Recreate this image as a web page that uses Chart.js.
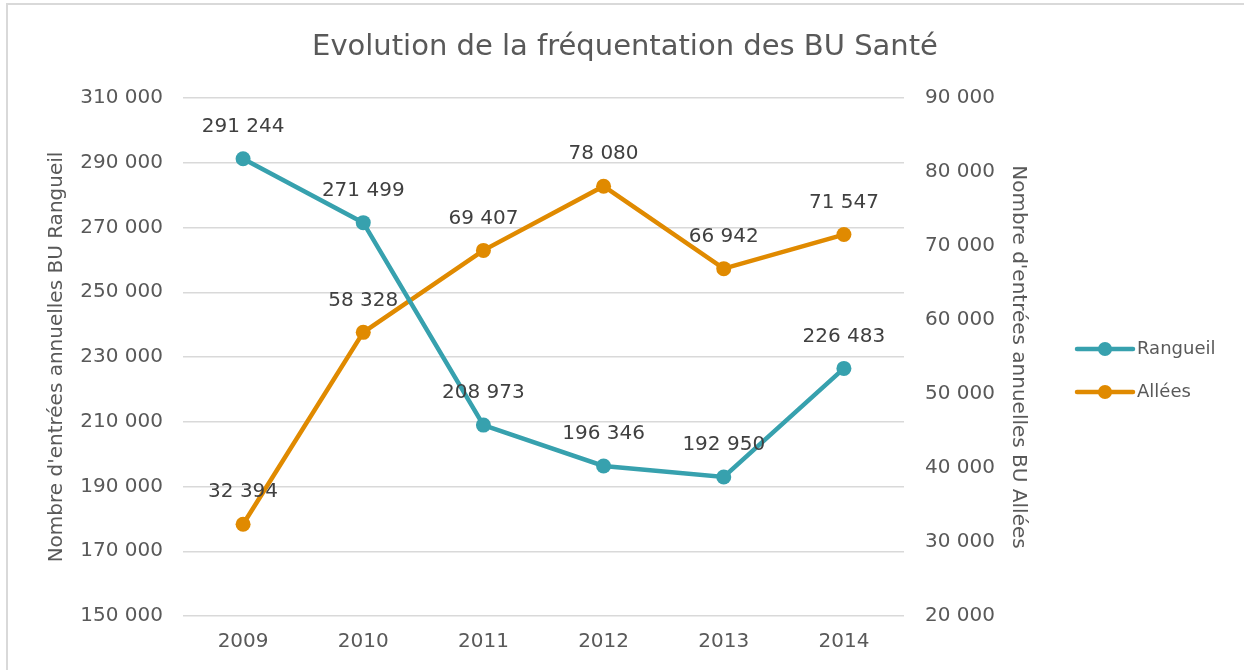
<!DOCTYPE html>
<html>
<head>
<meta charset="utf-8">
<script src="https://cdn.jsdelivr.net/npm/chart.js@4.4.1/dist/chart.umd.min.js"></script>
<style>
  html, body { margin: 0; padding: 0; background: #fff; }
  #wrap { position: relative; width: 1244px; height: 670px; overflow: hidden; }
  #frameL { position: absolute; left: 6px; top: 3px; width: 2px; height: 700px; background: #D9D9D9; }
  #frameT { position: absolute; left: 6px; top: 3px; width: 1300px; height: 2px; background: #D9D9D9; }
  canvas { position: absolute; left: 0; top: 0; }
</style>
</head>
<body>
<div id="wrap">
  <div id="frameL"></div>
  <div id="frameT"></div>
  <canvas id="c" width="1244" height="670"></canvas>
</div>
<script>
const categories = ["2009", "2010", "2011", "2012", "2013", "2014"];
const rangueil = [291244, 271499, 208973, 196346, 192950, 226483];
const allees = [32394, 58328, 69407, 78080, 66942, 71547];
const seriesNames = ["Rangueil", "Allées"];
const leftTicks = [150000, 170000, 190000, 210000, 230000, 250000, 270000, 290000, 310000];
const rightTicks = [20000, 30000, 40000, 50000, 60000, 70000, 80000, 90000];
const titleText = "Evolution de la fréquentation des BU Santé";
const leftTitle = "Nombre d'entrées annuelles BU Rangueil";
const rightTitle = "Nombre d'entrées annuelles BU Allées";

const FONT = "'DejaVu Sans', sans-serif";
const TEXT = "#595959";
const TEAL = "#37A1AE";
const ORANGE = "#E08A00";

function fmt(v) {
  return String(Math.round(v)).replace(/\B(?=(\d{3})+(?!\d))/g, " ");
}

const titlePlugin = {
  id: "titleDraw",
  afterDraw(chart) {
    const ctx = chart.ctx;
    ctx.save();
    ctx.font = "29px " + FONT;
    ctx.fillStyle = TEXT;
    ctx.textAlign = "center";
    ctx.textBaseline = "alphabetic";
    ctx.fillText(titleText, 625, 55);
    ctx.restore();
  }
};

const dataLabels = {
  id: "dataLabels",
  afterDatasetsDraw(chart) {
    const ctx = chart.ctx;
    ctx.save();
    ctx.font = "20px " + FONT;
    ctx.fillStyle = "#404040";
    ctx.textAlign = "center";
    ctx.textBaseline = "middle";
    chart.data.datasets.forEach((ds, i) => {
      const meta = chart.getDatasetMeta(i);
      meta.data.forEach((pt, j) => {
        ctx.fillText(fmt(ds.data[j]), pt.x, pt.y - 32);
      });
    });
    ctx.restore();
  }
};

const customLegend = {
  id: "customLegend",
  afterDraw(chart) {
    const ctx = chart.ctx;
    ctx.save();
    const x0 = 1077, x1 = 1133, ys = [349, 392];
    chart.data.datasets.forEach((ds, i) => {
      const y = ys[i];
      ctx.strokeStyle = ds.borderColor;
      ctx.lineWidth = 4.5;
      ctx.lineCap = "round";
      ctx.beginPath(); ctx.moveTo(x0, y); ctx.lineTo(x1, y); ctx.stroke();
      ctx.fillStyle = ds.borderColor;
      ctx.beginPath(); ctx.arc((x0 + x1) / 2, y, 7, 0, Math.PI * 2); ctx.fill();
      ctx.fillStyle = TEXT;
      ctx.font = "18px " + FONT;
      ctx.textAlign = "left";
      ctx.textBaseline = "middle";
      ctx.fillText(ds.label, 1137, y);
    });
    ctx.restore();
  }
};

new Chart(document.getElementById("c"), {
  type: "line",
  data: {
    labels: categories,
    datasets: [
      { label: seriesNames[0], data: rangueil, yAxisID: "y", borderColor: TEAL, backgroundColor: TEAL,
        borderWidth: 4.5, pointRadius: 7.5, pointHoverRadius: 7.5, pointBackgroundColor: TEAL, pointBorderWidth: 0, tension: 0 },
      { label: seriesNames[1], data: allees, yAxisID: "y1", borderColor: ORANGE, backgroundColor: ORANGE,
        borderWidth: 4.5, pointRadius: 7.5, pointHoverRadius: 7.5, pointBackgroundColor: ORANGE, pointBorderWidth: 0, tension: 0 }
    ]
  },
  options: {
    responsive: false,
    animation: false,
    layout: { padding: { left: 10, right: 210, top: 98, bottom: 0 } },
    plugins: {
      legend: { display: false },
      tooltip: { enabled: false },
      title: { display: false }
    },
    scales: {
      x: {
        offset: true,
        grid: { display: false, drawTicks: false },
        border: { display: false },
        ticks: { color: TEXT, font: { family: FONT, size: 20 }, padding: 14 },
        afterFit(s) { s.height = 54; }
      },
      y: {
        position: "left",
        min: 150000, max: 310000,
        afterBuildTicks(s) { s.ticks = leftTicks.map(v => ({ value: v })); },
        grid: { color: "#D9D9D9", lineWidth: 1.5, drawTicks: false },
        border: { display: false },
        ticks: { color: TEXT, font: { family: FONT, size: 20 }, padding: 20, callback: v => fmt(v) },
        title: { display: true, text: leftTitle, color: TEXT, font: { family: FONT, size: 20 }, padding: { top: 35, bottom: 0 } },
        afterFit(s) { s.width = 173; }
      },
      y1: {
        position: "right",
        min: 20000, max: 90000,
        afterBuildTicks(s) { s.ticks = rightTicks.map(v => ({ value: v })); },
        grid: { display: false, drawTicks: false },
        border: { display: false },
        ticks: { color: TEXT, font: { family: FONT, size: 20 }, padding: 21, callback: v => fmt(v) },
        title: { display: true, text: rightTitle, color: TEXT, font: { family: FONT, size: 20 }, padding: { top: 4, bottom: 0 } },
        afterFit(s) { s.width = 130; }
      }
    }
  },
  plugins: [titlePlugin, dataLabels, customLegend]
});
</script>
</body>
</html>
